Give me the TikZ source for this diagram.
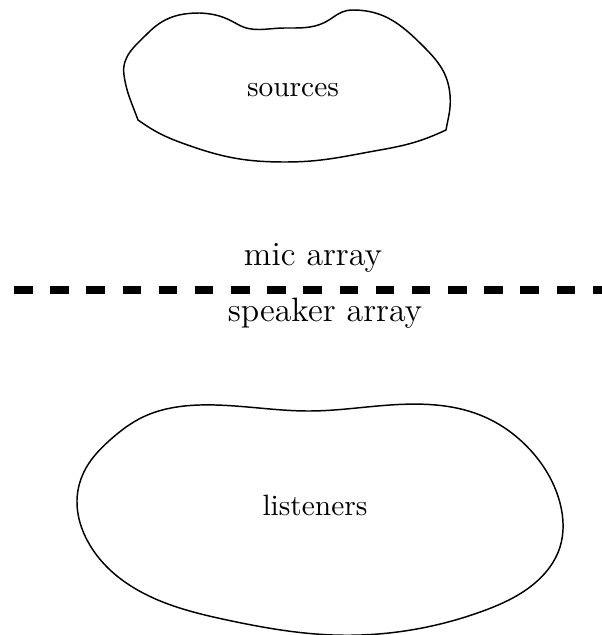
\documentclass[tikz,border=0pt]{standalone}
\usetikzlibrary{hobby}
\begin{document}
\begin{tikzpicture}[x=0.34pt,y=-0.34pt,
  blob/.style={draw=black,line width=0.5pt},
  lbl/.style={inner sep=0pt,font=\fontsize{10}{12}\selectfont},
  arr/.style={inner sep=0pt,font=\fontsize{11.5}{14}\selectfont},
  divider/.style={line width=2.4pt,dash pattern=on 6.3pt off 6pt}]
\useasboundingbox (0,0) rectangle (602,635);
% sources blob
\draw[blob] (200,13)
  to[out=-3,in=150] (237,24)
  to[out=-30,in=180] (285,28)
  to[out=0,in=215] (332,18)
  to[out=35,in=180] (353,10)
  to[out=0,in=135] (423,46)
  to[out=-45,in=95] (450,95)
  to[out=-85,in=80] (446,130)
  to[out=-155,in=10] (380,150)
  to[out=-170,in=0] (285,162)
  to[out=180,in=-20] (182,143)
  to[out=160,in=-35] (138,120)
  to[out=110,in=-82] (124,75)
  to[out=98,in=-135] (148,33)
  to[out=45,in=180] (200,13) -- cycle;
\node[lbl] (src) at (293,90) {sources};
% listeners blob
\draw[blob,use Hobby shortcut,closed=true]
 (200,405) .. (310,411) .. (390,405) .. (480,415) .. (533,453)
 .. (560,503) .. (560,547) .. (530,587) .. (483,611) .. (427,627)
 .. (333,635) .. (227,620) .. (143,593) .. (108,568) .. (86,538)
 .. (77,500) .. (86,468) .. (110,440) .. (143,417);
\node[lbl] (lis) at (315,505) {listeners};
% arrays
\node[arr] (mic) at (313,258) {mic array};
\node[arr] (spk) at (325,313) {speaker array};
\coordinate (dl) at (14,290);
\coordinate (dr) at (620,290);
\draw[divider] (dl) -- (dr);
\end{tikzpicture}
\end{document}
